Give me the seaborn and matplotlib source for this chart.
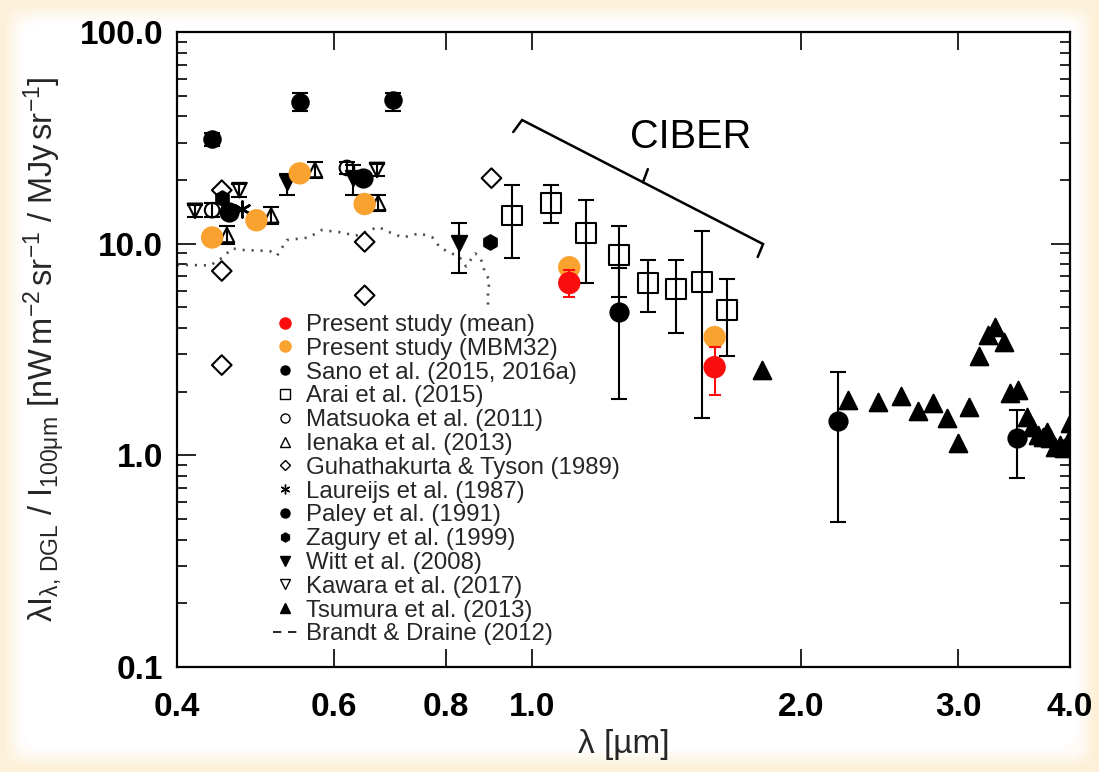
import numpy as np
import matplotlib
matplotlib.use("Agg")
import matplotlib.pyplot as plt
import seaborn as sns
from matplotlib.lines import Line2D
from matplotlib.patches import FancyBboxPatch
from matplotlib.ticker import FixedLocator, FixedFormatter, LogLocator, NullFormatter, NullLocator

# ---------------- data (wavelength in um, ratio in nW m^-2 sr^-1 / MJy sr^-1) ----------------
present_mean_x = [1.10, 1.60]
present_mean_y = [6.52, 2.61]
present_mean_lo = [5.60, 1.93]
present_mean_hi = [7.50, 3.25]

mbm32_x = [0.438, 0.491, 0.549, 0.649, 1.10, 1.60]
mbm32_y = [10.7, 12.9, 21.5, 15.4, 7.74, 3.62]

sano_x = [0.458, 0.646, 1.25, 2.20, 3.49]
sano_y = [14.1, 20.4, 4.75, 1.45, 1.21]
sano_err_x = [1.25, 2.20, 3.49]
sano_err_y = [4.75, 1.45, 1.21]
sano_lo = [1.84, 0.484, 0.78]
sano_hi = [7.67, 2.47, 1.64]

arai_x = [0.949, 1.05, 1.148, 1.25, 1.347, 1.448, 1.549, 1.652]
arai_y = [13.6, 15.6, 11.2, 8.83, 6.52, 6.10, 6.59, 4.86]
arai_lo = [8.55, 12.5, 6.52, 5.60, 4.75, 3.78, 1.50, 2.94]
arai_hi = [18.9, 18.9, 16.1, 12.1, 8.36, 8.36, 11.5, 6.81]

matsuoka_x = [0.438, 0.620]
matsuoka_y = [14.4, 22.8]
matsuoka_lo = [13.3, 21.4]
matsuoka_hi = [15.5, 24.3]

ienaka_x = [0.455, 0.510, 0.571, 0.672]
ienaka_y = [11.0, 13.6, 22.3, 15.6]
ienaka_lo = [10.0, 12.4, 20.4, 14.3]
ienaka_hi = [12.1, 14.9, 24.4, 17.0]

guhathakurta_x = [0.449, 0.449, 0.449, 0.649, 0.649, 0.900]
guhathakurta_y = [17.9, 7.43, 2.67, 10.2, 5.7, 20.4]

laureijs_x = [0.458, 0.473]
laureijs_y = [14.1, 14.6]

paley_x = [0.438, 0.549, 0.698]
paley_y = [31.2, 46.7, 47.5]
paley_lo = [28.9, 42.3, 42.5]
paley_hi = [33.3, 51.4, 51.5]

zagury_x = [0.449, 0.897]
zagury_y = [16.4, 10.2]

witt_x = [0.531, 0.630, 0.828]
witt_y = [19.5, 20.4, 10.1]
witt_lo = [17.0, 17.0, 7.26]
witt_hi = [21.3, 23.5, 12.5]

kawara_x = [0.419, 0.470, 0.670]
kawara_y = [14.3, 17.9, 22.3]
kawara_lo = [13.3, 16.7, 20.8]
kawara_hi = [15.3, 19.1, 23.8]

tsumura_x = [1.81, 2.256, 2.44, 2.59, 2.70, 2.81, 2.91, 3.00, 3.08, 3.16, 3.24, 3.30,
             3.37, 3.43, 3.50, 3.58, 3.63, 3.68, 3.73, 3.77, 3.80, 3.85, 3.90, 3.94,
             3.98, 4.00]
tsumura_y = [2.53, 1.82, 1.79, 1.91, 1.62, 1.77, 1.50, 1.14, 1.69, 2.94, 3.70, 4.04,
             3.43, 1.97, 2.03, 1.52, 1.36, 1.25, 1.22, 1.29, 1.21, 1.09, 1.12, 1.08,
             1.16, 1.42]

brandt_x = [0.400, 0.410, 0.436, 0.450, 0.461, 0.478, 0.492, 0.509, 0.518, 0.531,
            0.562, 0.581, 0.612, 0.634, 0.672, 0.693, 0.716, 0.748, 0.773, 0.788,
            0.807, 0.828, 0.843, 0.863, 0.875, 0.885, 0.896, 0.892, 0.892]
brandt_y = [7.93, 7.93, 7.90, 8.60, 9.50, 9.30, 9.30, 9.20, 8.80, 10.4,
            10.7, 11.6, 11.3, 10.9, 12.0, 11.3, 10.7, 11.2, 10.7, 9.6,
            9.1, 8.7, 7.8, 9.0, 8.6, 7.3, 6.7, 6.0, 5.0]

x_ticks = [0.4, 0.6, 0.8, 1.0, 2.0, 3.0, 4.0]
x_tick_labels = ["0.4", "0.6", "0.8", "1.0", "2.0", "3.0", "4.0"]
y_ticks = [0.1, 1.0, 10.0, 100.0]
y_tick_labels = ["0.1", "1.0", "10.0", "100.0"]

legend_labels = [
    "Present study (mean)", "Present study (MBM32)", "Sano et al. (2015, 2016a)",
    "Arai et al. (2015)", "Matsuoka et al. (2011)", "Ienaka et al. (2013)",
    "Guhathakurta & Tyson (1989)", "Laureijs et al. (1987)", "Paley et al. (1991)",
    "Zagury et al. (1999)", "Witt et al. (2008)", "Kawara et al. (2017)",
    "Tsumura et al. (2013)", "Brandt & Draine (2012)",
]

RED = "#fb0d0d"
ORANGE = "#f9a230"
CREAM = "#fdf0d8"

# ---------------- style ----------------
sns.set_style("ticks")
plt.rcParams["font.family"] = ["Liberation Sans", "DejaVu Sans"]
plt.rcParams["mathtext.fontset"] = "custom"
plt.rcParams["mathtext.rm"] = "Liberation Sans"
plt.rcParams["mathtext.it"] = "Liberation Sans"
plt.rcParams["mathtext.bf"] = "Liberation Sans:bold"

fig = plt.figure(figsize=(10.99, 7.72), dpi=100, facecolor=CREAM)
# soft white panel inside the cream frame
for i, a in enumerate([0.25, 0.35, 0.5, 0.7, 1.0]):
    inset = 0.006 + 0.004 * i
    fig.patches.append(FancyBboxPatch(
        (inset, inset * 1.42), 1 - 2 * inset, 1 - 2 * inset * 1.42,
        boxstyle="round,pad=0,rounding_size=0.02", transform=fig.transFigure,
        facecolor="white", edgecolor="none", alpha=a, zorder=-10))

ax = fig.add_axes([0.161, 0.136, 0.8126, 0.8225])
ax.set_facecolor("white")
ax.set_xscale("log")
ax.set_yscale("log")
ax.set_xlim(0.4, 4.0)
ax.set_ylim(0.1, 100.0)

eb = dict(fmt="none", ecolor="black", elinewidth=1.5, capsize=5.5, capthick=1.5, zorder=2)

# Brandt & Draine model curve
sns.lineplot(x=brandt_x, y=brandt_y, sort=False, estimator=None, ax=ax,
             color="#4d4d4d", linewidth=1.9, linestyle=(0, (0.8, 2.6)), zorder=1)

# error bars
ax.errorbar(arai_x, arai_y,
            yerr=[np.subtract(arai_y, arai_lo), np.subtract(arai_hi, arai_y)], **eb)
ax.errorbar(sano_err_x, sano_err_y,
            yerr=[np.subtract(sano_err_y, sano_lo), np.subtract(sano_hi, sano_err_y)], **eb)
ax.errorbar(paley_x, paley_y,
            yerr=[np.subtract(paley_y, paley_lo), np.subtract(paley_hi, paley_y)], **eb)
ax.errorbar(witt_x, witt_y,
            yerr=[np.subtract(witt_y, witt_lo), np.subtract(witt_hi, witt_y)], **eb)
ax.errorbar(ienaka_x, ienaka_y,
            yerr=[np.subtract(ienaka_y, ienaka_lo), np.subtract(ienaka_hi, ienaka_y)], **eb)
ax.errorbar(kawara_x, kawara_y,
            yerr=[np.subtract(kawara_y, kawara_lo), np.subtract(kawara_hi, kawara_y)], **eb)
ax.errorbar(matsuoka_x, matsuoka_y,
            yerr=[np.subtract(matsuoka_y, matsuoka_lo), np.subtract(matsuoka_hi, matsuoka_y)], **eb)

# literature points
def scatter(x, y, marker, size, filled=True, lw=1.5, z=3):
    sns.scatterplot(x=x, y=y, marker=marker, s=size, ax=ax, zorder=z,
                    facecolor="black" if filled else "none",
                    edgecolor="black", linewidth=lw, legend=False)

scatter(arai_x, arai_y, "s", 200, filled=False)
scatter(guhathakurta_x, guhathakurta_y, "D", 100, filled=False)
scatter(matsuoka_x, matsuoka_y, "o", 110, filled=False)
scatter(ienaka_x, ienaka_y, "^", 110, filled=False)
scatter(kawara_x, kawara_y, "v", 110, filled=False)
scatter(witt_x, witt_y, "v", 120)
scatter(paley_x, paley_y, "o", 140)
scatter(zagury_x, zagury_y, "h", 110)
scatter(laureijs_x, laureijs_y, (6, 2, 0), 130, lw=1.8)
scatter(sano_x, sano_y, "o", 170)
scatter(tsumura_x, tsumura_y, "^", 160)

# present study
sns.scatterplot(x=mbm32_x, y=mbm32_y, s=260, color=ORANGE, edgecolor="none",
                ax=ax, zorder=5, legend=False)
ax.errorbar(present_mean_x, present_mean_y,
            yerr=[np.subtract(present_mean_y, present_mean_lo),
                  np.subtract(present_mean_hi, present_mean_y)],
            fmt="none", ecolor=RED, elinewidth=1.5, capsize=4.5, capthick=1.5, zorder=5)
sns.scatterplot(x=present_mean_x, y=present_mean_y, s=260, color=RED, edgecolor="none",
                ax=ax, zorder=6, legend=False)

# CIBER bracket
ax.plot([0.952, 0.974, 1.813, 1.788], [33.7, 38.4, 9.96, 8.65],
        color="black", linewidth=1.8, solid_joinstyle="miter", zorder=4)
ax.plot([1.33, 1.347], [19.5, 22.5], color="black", linewidth=1.8, zorder=4)
ax.text(0.5756, 0.835, "CIBER", transform=ax.transAxes, ha="center", va="center",
        fontsize=28.5, color="black")

# axes cosmetics
for s in ax.spines.values():
    s.set_linewidth(1.6)
    s.set_color("black")
ax.xaxis.set_major_locator(FixedLocator(x_ticks))
ax.xaxis.set_major_formatter(FixedFormatter(x_tick_labels))
ax.xaxis.set_minor_locator(NullLocator())
ax.yaxis.set_major_locator(FixedLocator(y_ticks))
ax.yaxis.set_major_formatter(FixedFormatter(y_tick_labels))
ax.yaxis.set_minor_locator(LogLocator(base=10, subs=np.arange(2, 10)))
ax.yaxis.set_minor_formatter(NullFormatter())
ax.tick_params(axis="both", which="both", direction="in", top=True, right=True,
               colors="black", width=1.2)
ax.tick_params(axis="x", which="major", length=13, pad=18, labelsize=24)
ax.tick_params(axis="y", which="major", length=14, pad=10, labelsize=24)
ax.tick_params(axis="y", which="minor", length=7)
for lab in ax.get_xticklabels() + ax.get_yticklabels():
    lab.set_fontweight("bold")

ax.set_xlabel("λ [µm]", fontsize=24, labelpad=4)
ax.set_ylabel(r"$\lambda\mathrm{I}_{\lambda\mathrm{,\,DGL}}\ /\ \mathrm{I}_{100\mu\mathrm{m}}\ "
              r"[\mathrm{nW\,m}^{-2}\,\mathrm{sr}^{-1}\ /\ \mathrm{MJy\,sr}^{-1}]$",
              fontsize=23.5, labelpad=9)

# legend
def mk(marker, filled=True, color="black", ms=6.5):
    return Line2D([], [], linestyle="none", marker=marker, markersize=ms,
                  markerfacecolor=color if filled else "none",
                  markeredgecolor=color, markeredgewidth=1.0)

handles = [
    mk("o", color=RED, ms=8), mk("o", color=ORANGE, ms=8), mk("o"),
    mk("s", filled=False), mk("o", filled=False), mk("^", filled=False),
    mk("D", filled=False, ms=5.5), mk((6, 2, 0), ms=7), mk("o"), mk("h"),
    mk("v"), mk("v", filled=False), mk("^"),
    Line2D([], [], color="black", linewidth=1.2, linestyle=(0, (5, 4))),
]
ax.legend(handles, legend_labels, loc="upper left", bbox_to_anchor=(0.108, 0.556),
          frameon=False, fontsize=17.3, handlelength=1.0, handletextpad=0.35,
          labelspacing=0.075, borderpad=0, borderaxespad=0)

fig.savefig("out.png", dpi=100, facecolor=CREAM)
